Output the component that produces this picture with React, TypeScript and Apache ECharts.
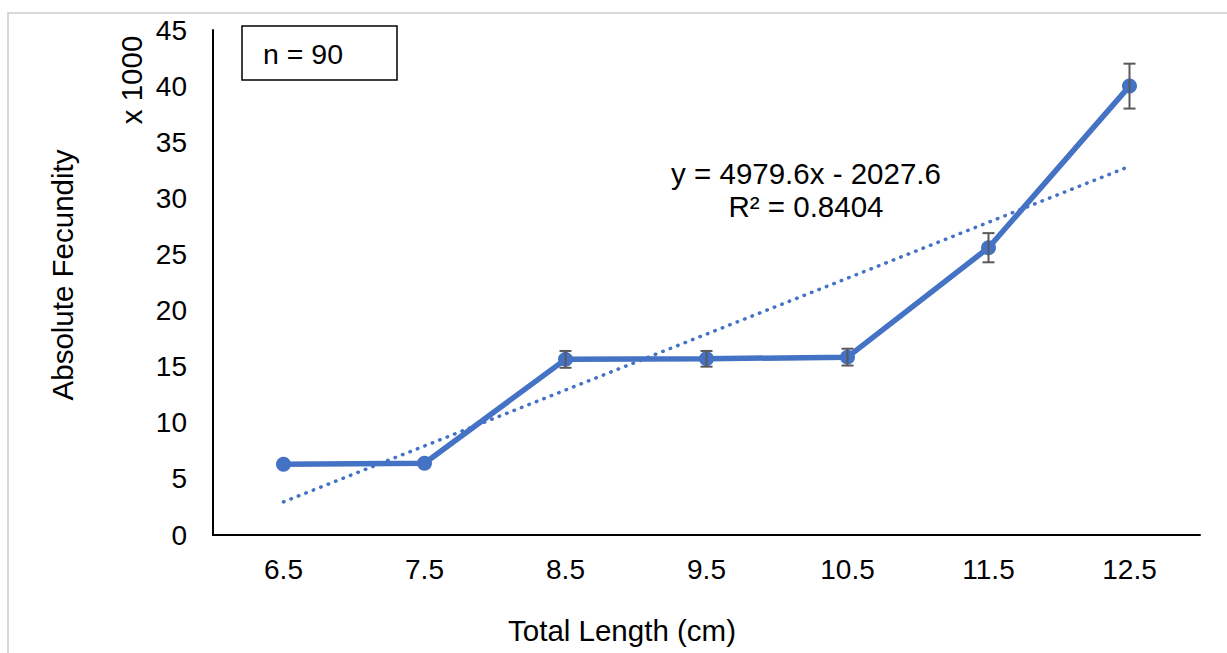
import React, { useEffect, useRef } from "react";
import * as echarts from "echarts";

const categories = ["6.5", "7.5", "8.5", "9.5", "10.5", "11.5", "12.5"];
const fecundity = [6.3, 6.4, 15.65, 15.7, 15.85, 25.6, 40.0];
const errors = [0, 0, 0.75, 0.7, 0.75, 1.3, 2.0];
const trendEnds = [2.95, 32.85];
const yTicks = { min: 0, max: 45, interval: 5 };

const BLUE = "#4472C4";
const FONT = "'Liberation Sans', Arial, sans-serif";
const TITLE_SIZE = 29.5;

export default function App() {
  const ref = useRef<HTMLDivElement>(null);
  useEffect(() => {
    if (!ref.current) return;
    const chart = echarts.init(ref.current, null, { renderer: "svg" });
    const trendData = categories.map((_, i) =>
      i === 0 ? trendEnds[0] : i === categories.length - 1 ? trendEnds[1] : "-"
    );
    const errData = categories
      .map((_, i) => [i, fecundity[i] - errors[i], fecundity[i] + errors[i], errors[i]])
      .filter((d) => d[3] > 0);
    chart.setOption({
      animation: false,
      backgroundColor: "#fff",
      textStyle: { fontFamily: FONT },
      grid: { left: 213, right: 27, top: 30, bottom: 118, containLabel: false },
      xAxis: {
        type: "category",
        data: categories,
        boundaryGap: true,
        axisLine: { lineStyle: { color: "#000", width: 2 } },
        axisTick: { show: false },
        axisLabel: { color: "#000", fontSize: 28, margin: 20, fontFamily: FONT },
        splitLine: { show: false },
      },
      yAxis: {
        type: "value",
        min: yTicks.min,
        max: yTicks.max,
        interval: yTicks.interval,
        axisLine: { show: true, lineStyle: { color: "#000", width: 2 } },
        axisTick: { show: false },
        axisLabel: { color: "#000", fontSize: 28, margin: 26, fontFamily: FONT },
        splitLine: { show: false },
      },
      series: [
        {
          type: "line",
          data: trendData,
          connectNulls: true,
          showSymbol: false,
          symbol: "none",
          lineStyle: { color: BLUE, width: 3.5, type: [0.5, 7.5], cap: "round" },
          z: 1,
        },
        {
          type: "line",
          data: fecundity,
          symbol: "circle",
          symbolSize: 15,
          itemStyle: { color: BLUE },
          lineStyle: { color: BLUE, width: 5.5 },
          z: 2,
        },
        {
          type: "custom",
          data: errData,
          z: 3,
          renderItem: (params: any, api: any) => {
            const x = api.value(0);
            const lo = api.coord([x, api.value(1)]);
            const hi = api.coord([x, api.value(2)]);
            const cw = 6;
            const style = { stroke: "#595959", lineWidth: 2 };
            return {
              type: "group",
              children: [
                { type: "line", shape: { x1: lo[0], y1: lo[1], x2: hi[0], y2: hi[1] }, style },
                { type: "line", shape: { x1: hi[0] - cw, y1: hi[1], x2: hi[0] + cw, y2: hi[1] }, style },
                { type: "line", shape: { x1: lo[0] - cw, y1: lo[1], x2: lo[0] + cw, y2: lo[1] }, style },
              ],
            };
          },
        },
      ],
      graphic: [
        {
          type: "rect",
          shape: { x: 8, y: 13, width: 1400, height: 800 },
          style: { fill: "none", stroke: "#d9d9d9", lineWidth: 2 },
          z: -10,
          silent: true,
        },
        {
          type: "rect",
          shape: { x: 242, y: 26, width: 155, height: 54 },
          style: { fill: "#fff", stroke: "#000", lineWidth: 1.5 },
          z: 10,
        },
        {
          type: "text",
          x: 263,
          y: 54,
          style: { text: "n = 90", fontSize: 28.5, fontFamily: FONT, fill: "#000", textVerticalAlign: "middle" },
          z: 11,
        },
        {
          type: "text",
          x: 806,
          y: 173,
          style: { text: "y = 4979.6x - 2027.6", fontSize: TITLE_SIZE, fontFamily: FONT, fill: "#000", textAlign: "center", textVerticalAlign: "middle" },
          z: 11,
        },
        {
          type: "text",
          x: 806,
          y: 206,
          style: { text: "R² = 0.8404", fontSize: TITLE_SIZE, fontFamily: FONT, fill: "#000", textAlign: "center", textVerticalAlign: "middle" },
          z: 11,
        },
        {
          type: "text",
          x: 622,
          y: 630,
          style: { text: "Total Length (cm)", fontSize: TITLE_SIZE, fontFamily: FONT, fill: "#000", textAlign: "center", textVerticalAlign: "middle" },
          z: 11,
        },
        {
          type: "text",
          x: 62,
          y: 275,
          rotation: Math.PI / 2,
          style: { text: "Absolute Fecundity", fontSize: TITLE_SIZE, fontFamily: FONT, fill: "#000", textAlign: "center", textVerticalAlign: "middle" },
          z: 11,
        },
        {
          type: "text",
          x: 131,
          y: 80,
          rotation: Math.PI / 2,
          style: { text: "x 1000", fontSize: TITLE_SIZE, fontFamily: FONT, fill: "#000", textAlign: "center", textVerticalAlign: "middle" },
          z: 11,
        },
      ],
    });
    return () => chart.dispose();
  }, []);
  return (
    <div
      ref={ref}
      style={{ position: "fixed", left: 0, top: 0, width: 1227, height: 653, background: "#fff" }}
    />
  );
}
